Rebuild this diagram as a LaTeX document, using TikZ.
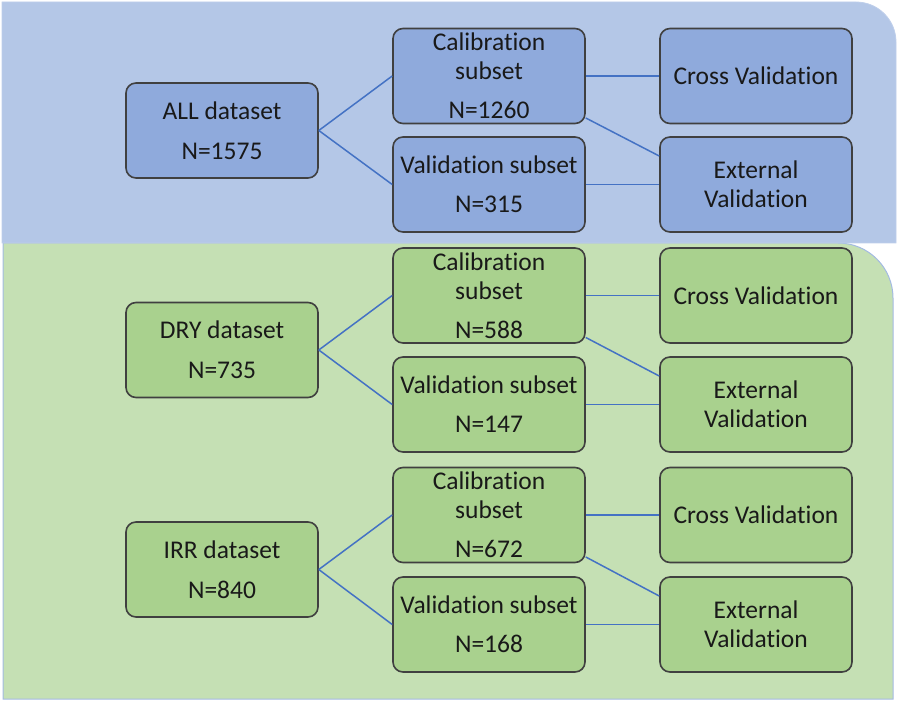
\documentclass[tikz,border=0pt]{standalone}
\usepackage{fontspec}
\setmainfont[Ligatures=NoCommon,RawFeature={-liga;-clig;-dlig}]{Carlito}
\definecolor{bluebg}{HTML}{B4C7E7}
\definecolor{bluebox}{HTML}{8FAADC}
\definecolor{greenbg}{HTML}{C5E0B4}
\definecolor{greenbox}{HTML}{A9D18E}
\definecolor{edge}{HTML}{404040}
\definecolor{conn}{HTML}{4472C4}
\definecolor{rim}{HTML}{A3BAE2}
\tikzset{
  box/.style={draw=edge, line width=1.6pt, rounded corners=10pt,
    minimum width=192pt, minimum height=95pt, inner sep=0pt, align=center,
    text=black!90, font=\fontsize{25.5}{29}\selectfont},
  bbox/.style={box, fill=bluebox},
  gbox/.style={box, fill=greenbox},
  link/.style={draw=conn, line width=1.5pt},
}
\begin{document}
\begin{tikzpicture}[x=1pt,y=-1pt]
\useasboundingbox (0,0) rectangle (898,703);
% background regions
\fill[greenbg, draw=rim, line width=1pt] (3,699) -- (3,243) -- (838,243)
  .. controls (868.4,243) and (893,267.6) .. (893,298) -- (893,699) -- cycle;
\fill[bluebg, draw=rim!70!white, line width=0.8pt] (2,243) -- (2,2) -- (856,2)
  .. controls (878.1,2) and (896,19.9) .. (896,42) -- (896,243) -- cycle;

% ALL
\node[bbox] (all) at (222,130.5) {ALL dataset\\[11pt]N=1575};
\node[bbox] (cal1) at (489,76) {Calibration\\subset\\[10pt]N=1260};
\node[bbox] (val1) at (489,184.5) {Validation subset\\[10pt]N=315};
\node[bbox] (cv1) at (756,76) {Cross Validation};
\node[bbox] (ev1) at (756,184.5) {External\\Validation};
\draw[link] (all.east) -- (cal1.west);
\draw[link] (all.east) -- (val1.west);
\draw[link] (cal1.east) -- (cv1.west);
\draw[link] ([yshift=-42pt]cal1.east) -- ([yshift=28.5pt]ev1.west);
\draw[link] (val1.east) -- (ev1.west);

% DRY
\node[gbox] (dry) at (222,350) {DRY dataset\\[11pt]N=735};
\node[gbox] (cal2) at (489,295.5) {Calibration\\subset\\[10pt]N=588};
\node[gbox] (val2) at (489,404.5) {Validation subset\\[10pt]N=147};
\node[gbox] (cv2) at (756,295.5) {Cross Validation};
\node[gbox] (ev2) at (756,404.5) {External\\Validation};
\draw[link] (dry.east) -- (cal2.west);
\draw[link] (dry.east) -- (val2.west);
\draw[link] (cal2.east) -- (cv2.west);
\draw[link] ([yshift=-42pt]cal2.east) -- ([yshift=28.5pt]ev2.west);
\draw[link] (val2.east) -- (ev2.west);

% IRR
\node[gbox] (irr) at (222,569.5) {IRR dataset\\[11pt]N=840};
\node[gbox] (cal3) at (489,515) {Calibration\\subset\\[10pt]N=672};
\node[gbox] (val3) at (489,624.5) {Validation subset\\[10pt]N=168};
\node[gbox] (cv3) at (756,515) {Cross Validation};
\node[gbox] (ev3) at (756,624.5) {External\\Validation};
\draw[link] (irr.east) -- (cal3.west);
\draw[link] (irr.east) -- (val3.west);
\draw[link] (cal3.east) -- (cv3.west);
\draw[link] ([yshift=-42pt]cal3.east) -- ([yshift=28.5pt]ev3.west);
\draw[link] (val3.east) -- (ev3.west);
\end{tikzpicture}
\end{document}
